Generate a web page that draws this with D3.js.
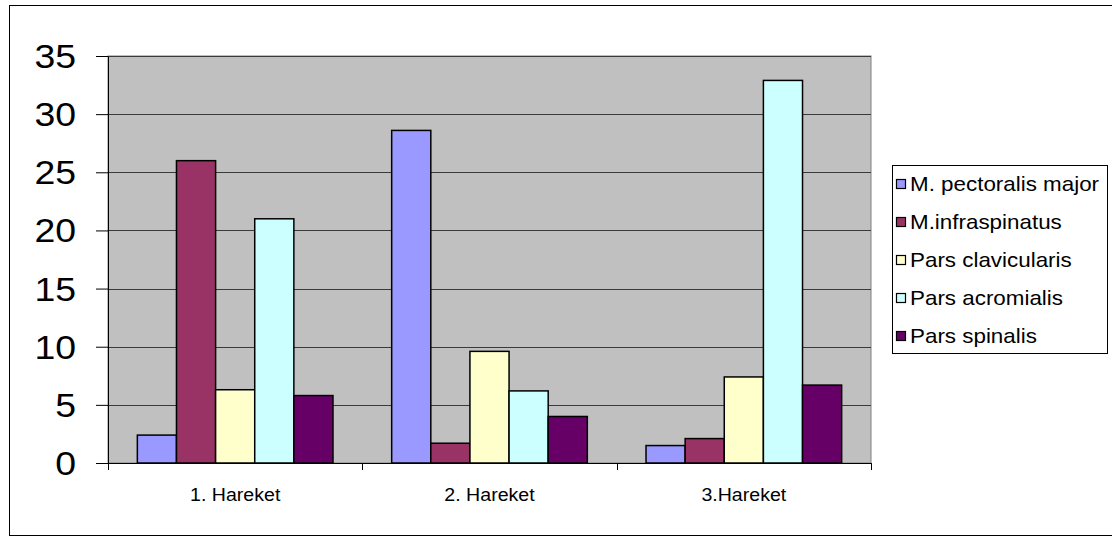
<!DOCTYPE html>
<html>
<head>
<meta charset="utf-8">
<script src="https://cdn.jsdelivr.net/npm/d3@7"></script>
<style>
  body { margin: 0; background: #fff; }
  text { font-family: "Liberation Sans", Arial, sans-serif; fill: #000; }
</style>
</head>
<body>
<script>
let categories = ["1. Hareket", "2. Hareket", "3.Hareket"];
let seriesNames = ["M. pectoralis major", "M.infraspinatus", "Pars clavicularis", "Pars acromialis", "Pars spinalis"];
let seriesColors = ["#9999FF", "#993366", "#FFFFCC", "#CCFFFF", "#660066"];
// values per series, one per category
let pectoralis = [2.4, 28.6, 1.5];
let infraspinatus = [26.0, 1.7, 2.1];
let clavicularis = [6.3, 9.6, 7.4];
let acromialis = [21.0, 6.2, 32.9];
let spinalis = [5.8, 4.0, 6.7];
let yTicks = [0, 5, 10, 15, 20, 25, 30, 35];

let seriesValues = [pectoralis, infraspinatus, clavicularis, acromialis, spinalis];

let w = 1112, h = 537;
let stretch = 1.12; // text in the picture is a little wide

let svg = d3.select("body")
    .append("svg")
    .attr("width", w)
    .attr("height", h);

// outer chart border
svg.append("rect")
    .attr("x", 9.5)
    .attr("y", 5.5)
    .attr("width", 1110)
    .attr("height", 530)
    .style("fill", "#fff")
    .style("stroke", "#000");

let plotLeft = 108, plotRight = 871, plotTop = 56, plotBottom = 463;

let x0 = d3.scaleBand()
    .domain(categories)
    .range([plotLeft, plotRight])
    .padding(0);

let x1 = d3.scaleBand()
    .domain(seriesNames)
    .range([0, x0.bandwidth()])
    .paddingInner(0)
    .paddingOuter(0.75); // gap width 150%

let y = d3.scaleLinear()
    .domain([0, 35])
    .range([plotBottom, plotTop]);

// plot area
svg.append("rect")
    .attr("x", plotLeft)
    .attr("y", plotTop)
    .attr("width", plotRight - plotLeft)
    .attr("height", plotBottom - plotTop)
    .style("fill", "#C0C0C0")
    .style("stroke", "#808080");

// gridlines
svg.selectAll(".grid")
    .data(yTicks.slice(1))
    .enter()
    .append("line")
    .attr("class", "grid")
    .attr("x1", plotLeft)
    .attr("x2", plotRight)
    .attr("y1", d => Math.round(y(d)) + 0.5)
    .attr("y2", d => Math.round(y(d)) + 0.5)
    .style("stroke", "#3a3a3a")
    .style("stroke-width", 1);

// bars
let rows = [];
categories.forEach(function(c, ci) {
    seriesNames.forEach(function(s, si) {
        rows.push({ cat: c, series: s, color: seriesColors[si], value: seriesValues[si][ci] });
    });
});

svg.selectAll(".bar")
    .data(rows)
    .enter()
    .append("rect")
    .attr("class", "bar")
    .attr("x", d => x0(d.cat) + x1(d.series))
    .attr("y", d => y(d.value))
    .attr("width", x1.bandwidth())
    .attr("height", d => y(0) - y(d.value))
    .style("fill", d => d.color)
    .style("stroke", "#000")
    .style("stroke-width", 1.5);

// y axis
let yAxis = d3.axisLeft(y)
    .tickValues(yTicks)
    .tickSize(12)
    .tickSizeOuter(0);

let yg = svg.append("g")
    .attr("transform", "translate(" + plotLeft + ",0)")
    .call(yAxis);
yg.select(".domain").style("stroke", "#000");
yg.selectAll(".tick line").style("stroke", "#000");
yg.selectAll(".tick text")
    .attr("x", 0)
    .attr("dy", "0.34em")
    .attr("transform", "translate(-32,0) scale(1.1,1)")
    .style("font-size", "34px")
    .style("font-family", "Liberation Sans, Arial, sans-serif");

// x axis
svg.append("line")
    .attr("x1", plotLeft)
    .attr("x2", plotRight)
    .attr("y1", plotBottom + 0.5)
    .attr("y2", plotBottom + 0.5)
    .style("stroke", "#000");

let bounds = categories.map(c => x0(c)).concat([plotRight]);
svg.selectAll(".xtick")
    .data(bounds)
    .enter()
    .append("line")
    .attr("class", "xtick")
    .attr("x1", d => Math.round(d) + 0.5)
    .attr("x2", d => Math.round(d) + 0.5)
    .attr("y1", plotBottom)
    .attr("y2", plotBottom + 7)
    .style("stroke", "#000");

svg.selectAll(".xlabel")
    .data(categories)
    .enter()
    .append("text")
    .attr("class", "xlabel")
    .attr("text-anchor", "middle")
    .attr("transform", d => "translate(" + (x0(d) + x0.bandwidth() / 2) + ",501) scale(" + stretch + ",1)")
    .style("font-size", "17.5px")
    .text(d => d);

// legend
let legend = svg.append("g");
legend.append("rect")
    .attr("x", 892.5)
    .attr("y", 165.5)
    .attr("width", 215)
    .attr("height", 188)
    .style("fill", "#fff")
    .style("stroke", "#000");

let items = legend.selectAll(".item")
    .data(seriesNames)
    .enter()
    .append("g")
    .attr("class", "item")
    .attr("transform", (d, i) => "translate(0," + (184 + i * 38) + ")");

items.append("rect")
    .attr("x", 896.5)
    .attr("y", -4.5)
    .attr("width", 9)
    .attr("height", 9)
    .style("fill", (d, i) => seriesColors[i])
    .style("stroke", "#000")
    .style("stroke-width", 1.2);

items.append("text")
    .attr("transform", "translate(910,0) scale(" + stretch + ",1)")
    .attr("dy", "0.35em")
    .style("font-size", "20px")
    .text(d => d);
</script>
</body>
</html>
